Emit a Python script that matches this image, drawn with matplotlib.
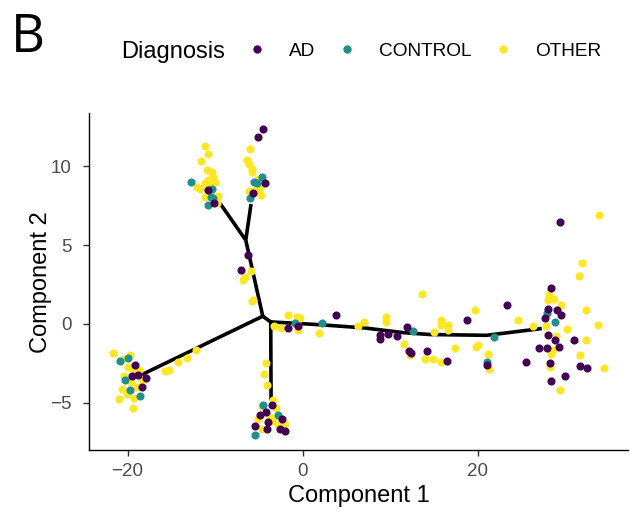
import matplotlib.pyplot as plt
from matplotlib.lines import Line2D

# Cell positions in the reduced space, split by diagnosis
ad_x = [-10.76, -10.08, -4.56, -5.13, -4.30, -5.63, -6.27, -7.03, -1.64, -0.50,
        3.76, 8.81, 8.81, 9.76, 10.75, 11.86, 12.12, 12.42, 14.25, 16.53,
        18.81, 21.05, 23.33, 25.54, 29.42, 28.31, 29.07, 29.53, 28.0, 27.62,
        30.93, 28.0, 28.76, 29.26, 27.93, 26.94, 28.2, 31.7, 32.45, 29.91,
        28.39, -19.12, -19.5, -18.81, -17.9, -18.36, -3.53, -4.87, -4.18, -3.92,
        -2.39, -5.44, -4.04, -2.02, -2.59]
ad_y = [8.49, 7.65, 12.38, 11.87, 8.95, 8.28, 4.36, 3.45, -0.25, -0.15,
        0.55, -0.72, -0.93, -0.65, -0.78, -0.19, -1.73, -1.84, -1.73, -2.37,
        0.24, -2.62, 1.19, -2.41, 6.46, 2.31, 0.87, 0.55, 0.93, 0.40,
        -0.99, -0.67, -1.04, -1.46, -1.50, -1.50, -2.48, -2.69, -2.79, -3.28,
        -3.64, -2.58, -3.32, -3.26, -3.40, -4.0, -5.12, -5.80, -5.59, -6.22,
        -6.01, -6.48, -6.64, -6.81, -6.64]

control_x = [-12.81, -10.37, -10.45, -10.76, -10.19, -4.60, -5.24, -6.01, -5.59, -0.88,
             2.23, 12.61, 21.82, 21.05, 27.93, 28.76, -20.83, -19.95, -20.34, -19.69,
             -18.63, -4.49, -2.85, -5.44]
control_y = [8.98, 8.57, 8.06, 7.54, 7.96, 9.30, 8.92, 8.00, 8.98, 0.06,
             0.06, -0.46, -0.83, -2.41, 0.70, 0.13, -2.37, -2.13, -3.58, -4.17,
             -4.59, -5.12, -5.80, -7.02]

other_x = [-11.17, -10.83, -11.67, -10.94, -10.37, -10.26, -10.76, -10.0, -11.14, -12.08,
           -11.71, -10.57, -11.14, -9.69, -9.80, -10.57, -6.01, -6.39, -6.12, -5.81,
           -5.75, -5.13, -4.87, -6.12, -5.75, -4.79, -5.44, -5.86, -6.8, -6.58,
           -5.81, -5.63, -3.24, -2.51, -1.64, -0.69, -0.31, -0.69, -0.5, 1.89,
           6.27, 6.99, 9.46, 9.46, 13.6, 11.55, 13.95, 14.89, 15.77, 12.23,
           15.0, 15.77, 15.77, 16.6, 16.6, 19.64, 17.37, 19.76, 20.03, 21.17,
           21.24, 24.58, 26.3, 33.82, 31.93, 31.51, 28.12, 28.0, 28.68, 29.45,
           27.74, 30.16, 32.38, 33.70, 32.38, 28.96, 28.57, 28.31, 31.7, 28.2,
           34.36, 29.42, -21.66, -19.69, -20.53, -19.5, -19.95, -19.2, -18.74, -20.45,
           -18.36, -19.58, -20.63, -18.93, -20.06, -19.31, -21.02, -19.38, -15.78, -15.32,
           -14.25, -13.23, -12.2, -4.18, -4.38, -4.04, -3.35, -4.68, -3.04, -3.73,
           -3.35, -2.78, -2.02, -4.68, -5.06]
other_y = [11.30, 10.76, 10.33, 9.76, 9.61, 9.33, 9.12, 9.02, 8.92, 8.70,
           8.53, 8.74, 8.06, 8.13, 7.65, 8.38, 11.09, 10.40, 10.12, 9.80,
           9.65, 9.17, 8.60, 8.45, 8.32, 8.15, 8.49, 3.33, 2.77, 2.98,
           1.46, 1.50, -0.10, -0.27, 0.55, 0.45, 0.40, -0.08, -0.40, -0.55,
           -0.13, 0.13, 0.45, 0.15, 1.93, -1.25, -2.20, -2.24, -2.41, -1.99,
           -0.51, 0.24, -0.04, -0.08, -0.36, 0.87, -1.52, -1.46, -1.31, -1.88,
           -2.83, 0.24, -0.15, 6.90, 3.87, 3.03, 1.82, 1.50, 1.57, 1.23,
           -0.15, -0.34, 0.87, -0.06, -1.04, -0.78, -1.63, -1.92, -1.99, -2.73,
           -2.77, -4.21, -1.82, -1.94, -2.20, -2.77, -2.73, -2.83, -2.90, -3.32,
           -3.53, -3.68, -4.15, -4.0, -4.42, -4.67, -4.74, -5.31, -3.0, -2.94,
           -2.41, -2.13, -1.67, -2.48, -3.15, -3.89, -4.84, -5.21, -5.33, -5.91,
           -6.12, -6.39, -6.33, -6.64, -6.01]

# Principal graph (trajectory tree), one polyline per branch
tree_branches = [
    ([-18.36, -4.56], [-3.21, 0.49]),
    ([-4.56, -6.50], [0.49, 5.31]),
    ([-6.50, -9.43], [5.31, 7.64]),
    ([-6.50, -5.90], [5.31, 7.60]),
    ([-4.56, -3.65], [0.49, 0.13]),
    ([-3.65, -3.61], [0.13, -4.84]),
    ([-3.65, 2.0, 7.0, 11.5, 14.5, 21.0, 27.3],
     [0.13, -0.05, -0.25, -0.55, -0.67, -0.72, -0.29]),
]

groups = ['AD', 'CONTROL', 'OTHER']
colors = {'AD': '#440154', 'CONTROL': '#21908C', 'OTHER': '#FDE725'}

plt.rcParams['font.family'] = ['Liberation Sans', 'DejaVu Sans']

fig = plt.figure(figsize=(6.3, 5.14), dpi=100)
ax = fig.add_axes([0.1405, 0.1245, 0.857, 0.655])

for bx, by in tree_branches:
    ax.plot(bx, by, color='black', lw=2.6, solid_capstyle='butt', zorder=2)

ax.scatter(other_x, other_y, s=34, color=colors['OTHER'], lw=0, zorder=3)
ax.scatter(control_x, control_y, s=34, color=colors['CONTROL'], lw=0, zorder=3)
ax.scatter(ad_x, ad_y, s=34, color=colors['AD'], lw=0, zorder=3)

ax.set_xlim(-24.46, 37.2)
ax.set_ylim(-7.99, 13.35)
ax.set_xticks([-20, 0, 20])
ax.set_yticks([-5, 0, 5, 10])

for side in ['top', 'right']:
    ax.spines[side].set_visible(False)
for side in ['left', 'bottom']:
    ax.spines[side].set_linewidth(1.0)
    ax.spines[side].set_color('black')

ax.tick_params(axis='both', length=4, width=1.0, color='#333333',
               labelcolor='#4D4D4D', labelsize=13.5)
ax.tick_params(axis='x', pad=5)
ax.tick_params(axis='y', pad=8)

ax.set_xlabel('Component 1', fontsize=17, labelpad=4)
ax.set_ylabel('Component 2', fontsize=17, labelpad=-1)

# legend across the top
handles = [Line2D([], [], marker='o', ls='none', markersize=6,
                  markerfacecolor=colors[g], markeredgewidth=0) for g in groups]
fig.legend(handles, groups, loc='center left', ncol=3, frameon=False,
           bbox_to_anchor=(247 / 630, 1 - 51 / 514), fontsize=13.7,
           handlelength=1.0, handletextpad=1.18, columnspacing=1.18,
           borderpad=0, borderaxespad=0)
fig.text(121 / 630, 1 - 52 / 514, 'Diagnosis', fontsize=17, ha='left', va='center')

fig.text(11 / 630, 1 - 52 / 514, 'B', fontsize=38, family='Open Sans', va='baseline')

fig.savefig('out.png', dpi=100)
